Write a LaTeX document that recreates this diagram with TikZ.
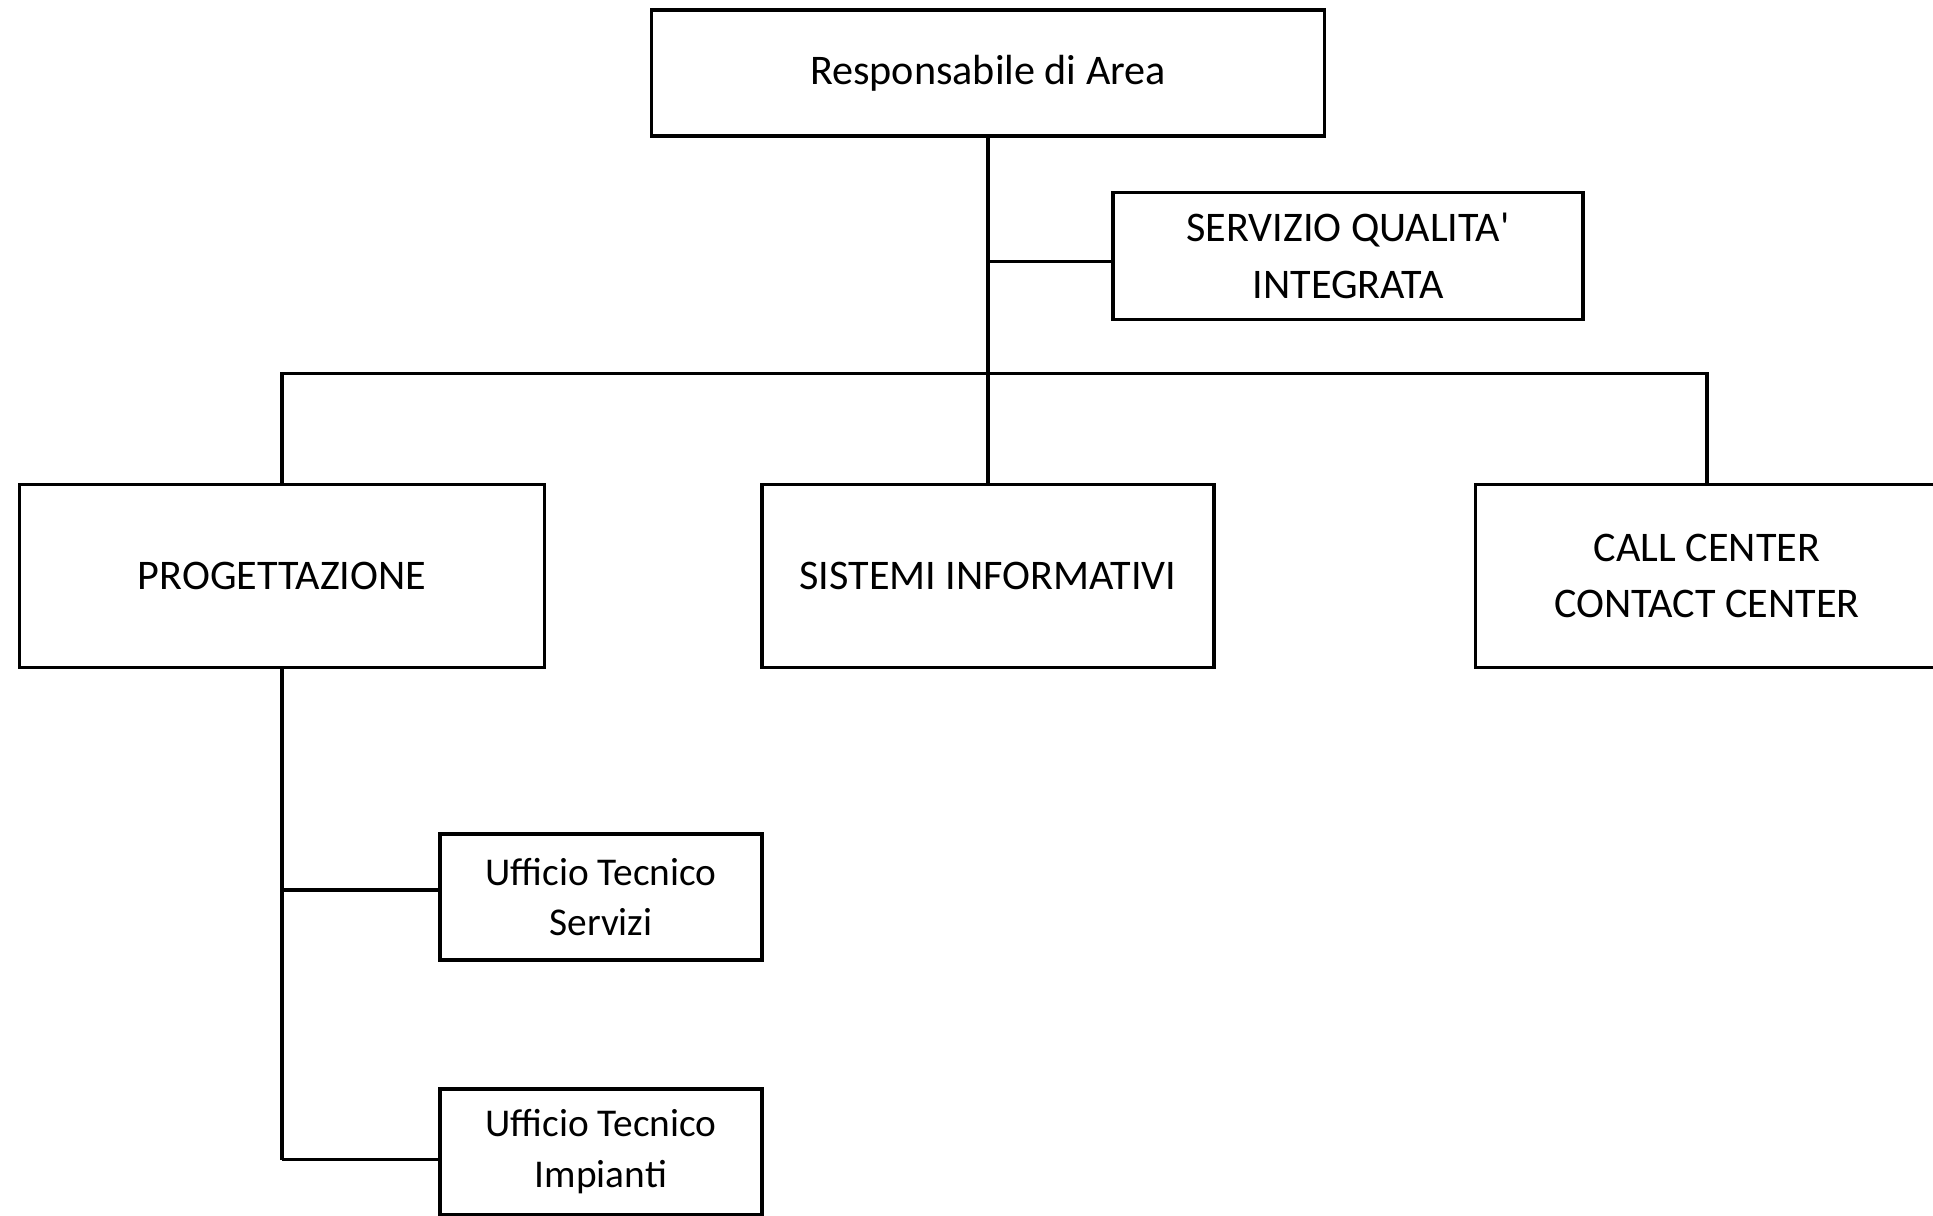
\documentclass[tikz,border=0pt]{standalone}
\usepackage{fontspec}
\setmainfont{Carlito}[Ligatures=TeXOff]
\usetikzlibrary{positioning}

\tikzset{
    box/.style={draw, rectangle, line width=2.2pt, inner sep=0pt, align=center,
                font=\fontsize{24}{32}\selectfont},
    smallbox/.style={box, font=\fontsize{22.4}{29}\selectfont},
    link/.style={line width=2.2pt}
}

\begin{document}
\begin{tikzpicture}[x=0.02cm, y=-0.02cm]
        \def \unit {0.02cm}
        \def \bigheight {183}
        \def \busy {373.5}

        % page size of the reference
        \useasboundingbox (0,0) rectangle (1933,1216);

        % top of the chart
        \node[box, minimum width=673*\unit, minimum height=126*\unit] (resp) at (988,73) {Responsabile di Area};
        \node[box, minimum width=470*\unit, minimum height=127*\unit] (qual) at (1348,256) {SERVIZIO QUALITA'\\INTEGRATA};

        % the three areas
        \node[box, minimum width=525*\unit, minimum height=\bigheight*\unit] (prog) at (282,576) {PROGETTAZIONE};
        \node[box, minimum width=452*\unit, minimum height=\bigheight*\unit] (sis) at (988,576) {SISTEMI INFORMATIVI};
        \node[box, minimum width=463*\unit, minimum height=\bigheight*\unit] (call) at (1707,576) {CALL CENTER\\CONTACT CENTER};

        % offices under PROGETTAZIONE
        \node[smallbox, minimum width=322*\unit, minimum height=126*\unit] (uts) at (601,897) {Ufficio Tecnico\\Servizi};
        \node[smallbox, minimum width=322*\unit, minimum height=126*\unit] (uti) at (601,1152) {Ufficio Tecnico\\Impianti};

        % connectors
        \coordinate (bus) at (0,\busy);
        \draw[link] (resp.south) -- (sis.north);
        \draw[link] ([yshift=-0.11cm]qual.west) -- ([yshift=-0.11cm]qual.west -| resp.south);
        \draw[link] (prog.north) -- (prog.north |- bus) -- (call.north |- bus) -- (call.north);
        \draw[link] (prog.south) -- ([yshift=-0.15cm]prog.south |- uti.west);

        % iterate on the two offices, each with its own offset
        \foreach \office/\shift in {uts/0.14cm,uti/-0.15cm} {
            \draw[link] ([yshift=\shift]\office.west) -- ([yshift=\shift]\office.west -| prog.south);
        }
    \end{tikzpicture}
\end{document}
